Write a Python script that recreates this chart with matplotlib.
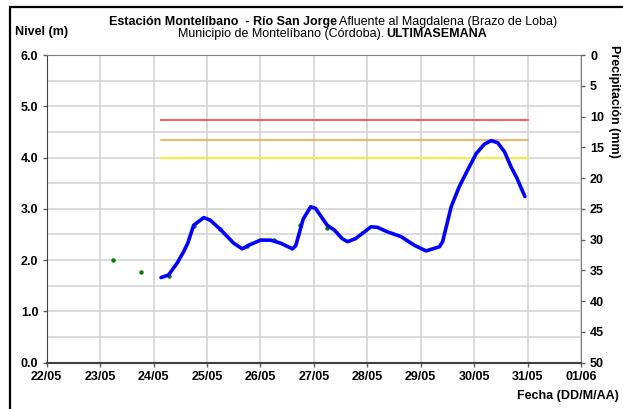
import numpy as np
import matplotlib
matplotlib.use("Agg")
import matplotlib.pyplot as plt
from matplotlib.patches import Rectangle

plt.rcParams['font.family'] = ['Liberation Sans', 'DejaVu Sans']

# tiempo en dias desde 22/05 00:00
dias_lbl = ["22/05", "23/05", "24/05", "25/05", "26/05", "27/05",
            "28/05", "29/05", "30/05", "31/05", "01/06"]

t_nivel = [2.14, 2.28, 2.44, 2.56, 2.64, 2.75, 2.94, 3.06, 3.25, 3.50,
           3.66, 3.78, 4.00, 4.19, 4.38, 4.60, 4.66, 4.72, 4.80, 4.94,
           5.03, 5.25, 5.38, 5.53, 5.63, 5.78, 6.07, 6.19, 6.38, 6.63,
           6.88, 7.10, 7.35, 7.41, 7.57, 7.72, 7.88, 8.04, 8.19, 8.32,
           8.44, 8.57, 8.69, 8.80, 8.95]
nivel = [1.66, 1.71, 1.94, 2.16, 2.33, 2.68, 2.83, 2.78, 2.60, 2.33,
         2.22, 2.29, 2.39, 2.39, 2.33, 2.22, 2.28, 2.50, 2.80, 3.04,
         3.01, 2.68, 2.59, 2.42, 2.36, 2.42, 2.65, 2.64, 2.55, 2.46,
         2.29, 2.18, 2.26, 2.36, 3.04, 3.43, 3.76, 4.08, 4.26, 4.33,
         4.29, 4.11, 3.82, 3.60, 3.24]

# lecturas (puntos verdes)
t_obs = [1.25, 1.76, 2.28, 2.75, 3.25, 3.75, 4.25, 4.75, 5.25]
obs = [2.00, 1.77, 1.70, 2.66, 2.61, 2.27, 2.39, 2.68, 2.63]

# umbrales
t_umbral = [2.14, 9.0]
roja = 4.73
naranja = 4.35
amarilla = 4.00

fs = 9

fig = plt.figure(figsize=(6.23, 4.09), dpi=100)
ax = fig.add_axes([46.7/623, 1-362.7/409, (581-46.7)/623, (362.7-55)/409])

ax.plot(t_umbral, [roja]*2, color='#ff4d4d', lw=1.3, zorder=3)
ax.plot(t_umbral, [naranja]*2, color='#f0a040', lw=1.1, zorder=3)
ax.plot(t_umbral, [amarilla]*2, color='#f8f030', lw=1.3, zorder=3)
ax.plot(t_obs, obs, 'o', color='#008000', ms=2.2, zorder=4)
ax.plot(t_nivel, nivel, color='#0000ff', lw=2.6, zorder=5,
        solid_capstyle='round', solid_joinstyle='round')

ax.set_xlim(0, 10)
ax.set_ylim(0, 6)
ax.set_xticks(range(len(dias_lbl)))
ax.set_xticklabels(dias_lbl)
ax.set_yticks(np.arange(0, 6.1, 1))
ax.set_yticklabels(["%.1f" % v for v in np.arange(0, 6.1, 1)])
ax.set_yticks(np.arange(0, 6.1, 0.5), minor=True)
ax.grid(True, which='major', axis='x', color='#d4d4d4', lw=1.2)
ax.grid(True, which='both', axis='y', color='#d4d4d4', lw=1.2)
ax.set_axisbelow(True)
ax.tick_params(axis='y', which='minor', length=0)
ax.tick_params(axis='both', which='major', length=3, width=1, color='#606060',
               labelsize=fs, pad=3)
for lab in ax.get_xticklabels() + ax.get_yticklabels():
    lab.set_fontweight('bold')
for s in ['left', 'bottom', 'right', 'top']:
    ax.spines[s].set_color('#808080')
ax.spines['left'].set_color('#404040')
ax.spines['bottom'].set_color('#404040')
ax.spines['bottom'].set_linewidth(1.5)

ax2 = ax.twinx()
ax2.set_ylim(50, 0)
ax2.set_yticks(range(0, 51, 5))
ax2.tick_params(axis='y', length=3, width=1, color='#606060', labelsize=fs)
for lab in ax2.get_yticklabels():
    lab.set_fontweight('bold')
for s in ['left', 'bottom', 'right', 'top']:
    ax2.spines[s].set_visible(False)

# textos
fig.text(337/623, 1-22/409, "Estación Montelíbano  - Río San Jorge", ha='right',
         va='center', fontsize=fs, fontweight='bold')
fig.text(339/623, 1-22/409, "Afluente al Magdalena (Brazo de Loba)", ha='left',
         va='center', fontsize=fs)
fig.text(384/623, 1-34/409, "Municipio de Montelíbano (Córdoba).", ha='right',
         va='center', fontsize=fs)
fig.text(386/623, 1-34/409, "ULTIMASEMANA", ha='left', va='center',
         fontsize=fs, fontweight='bold')
fig.text(15/623, 1-32/409, "Nivel (m)", ha='left', va='center', fontsize=fs,
         fontweight='bold')
fig.text(619/623, 1-396/409, "Fecha (DD/M/AA)", ha='right', va='center',
         fontsize=fs, fontweight='bold')
fig.text(614/623, 1-45/409, "Precipitación (mm)", ha='center', va='top',
         rotation=-90, fontsize=fs, fontweight='bold')

# marco
fig.patches.append(Rectangle((10/623, -0.1), 1.2, 1.1 - 7/409,
                             transform=fig.transFigure, fill=False,
                             edgecolor='black', lw=1.6))

fig.savefig("out.png", dpi=100)
